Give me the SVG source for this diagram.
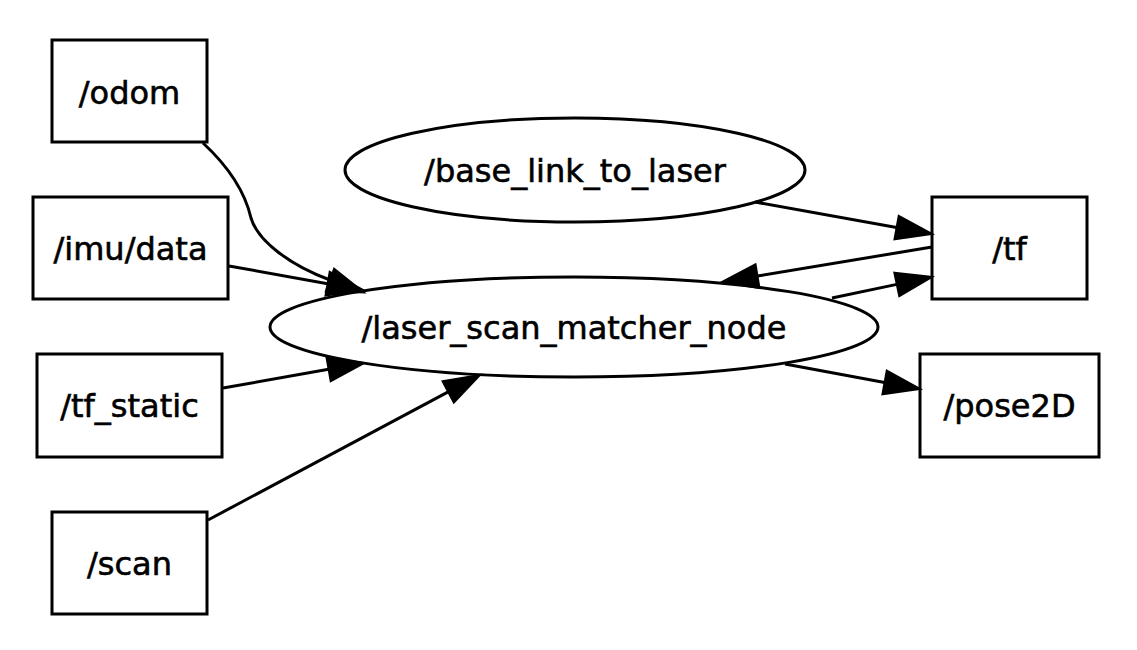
<svg xmlns="http://www.w3.org/2000/svg" width="1137" height="650" viewBox="0 0 1137 650">
<style>
.n rect, .n ellipse { fill: none; stroke: #000; stroke-width: 3; }
.n text { font-family: "DejaVu Sans", sans-serif; font-size: 32px; text-anchor: middle; fill: #000; stroke: #000; stroke-width: 0.6; }
#edges path { fill: none; stroke: #000; stroke-width: 3; marker-end: url(#ah); }
</style>
<defs>
<marker id="ah" markerUnits="userSpaceOnUse" markerWidth="40" markerHeight="30" viewBox="0 0 40 30" refX="0" refY="15" orient="auto" overflow="visible">
<path d="M0,3 L36,15 L0,27 Z" fill="#000" stroke="#000" stroke-width="2"/>
</marker>
</defs>
<rect width="1137" height="650" fill="#fff"/>
<g id="edges">
<path d="M203,143 C230,168 245,192 251,218 C258,242 292,266 330,280"/>
<path d="M229,266 L327.6,283.7"/>
<path d="M223,388 L328.6,369.3"/>
<path d="M208,520 L448.2,391.9"/>
<path d="M755,202 L896.6,227.6"/>
<path d="M932,247 L757.5,276.1"/>
<path d="M832,298 L896.8,284.4"/>
<path d="M785,364 L884.6,382.4"/>
</g>
<g id="odom" class="n"><rect x="52" y="40" width="155" height="102"/><text x="129.5" y="104">/odom</text></g>
<g id="imu_data" class="n"><rect x="33" y="197" width="195" height="102"/><text x="130.5" y="260">/imu/data</text></g>
<g id="tf_static" class="n"><rect x="37" y="354" width="185" height="103"/><text x="129.5" y="417">/tf_static</text></g>
<g id="scan" class="n"><rect x="52" y="512" width="155" height="102"/><text x="129.5" y="575">/scan</text></g>
<g id="base_link_to_laser" class="n"><ellipse cx="575" cy="170" rx="230" ry="52"/><text x="575" y="182">/base_link_to_laser</text></g>
<g id="laser_scan_matcher_node" class="n"><ellipse cx="574" cy="327" rx="304" ry="50"/><text x="574" y="339">/laser_scan_matcher_node</text></g>
<g id="tf" class="n"><rect x="932" y="197" width="155" height="102"/><text x="1009.5" y="260">/tf</text></g>
<g id="pose2D" class="n"><rect x="920" y="354" width="179" height="103"/><text x="1009.5" y="417">/pose2D</text></g>
</svg>
